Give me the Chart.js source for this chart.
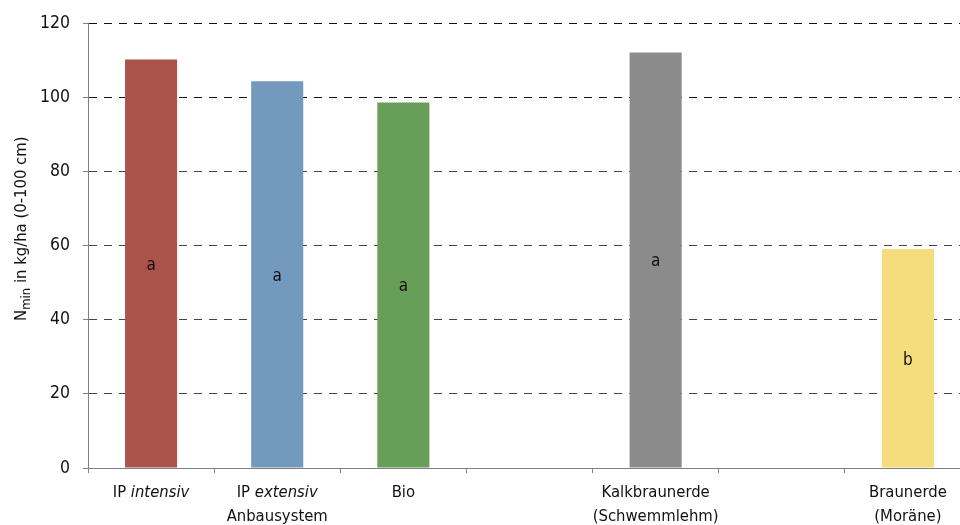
<!DOCTYPE html>
<html>
<head>
<meta charset="utf-8">
<script src="https://cdn.jsdelivr.net/npm/chart.js@4/dist/chart.umd.min.js"></script>
<style>
  html, body { margin: 0; padding: 0; background: #fff; overflow: hidden; }
  #wrap { width: 960px; height: 525px; overflow: hidden; }
  canvas { display: block; }
</style>
</head>
<body>
<div id="wrap"><canvas id="c" width="975" height="525"></canvas></div>
<script>
// Categories (empty strings are spacer slots between the groups)
const categories = ['IP intensiv', 'IP extensiv', 'Bio', '', 'Kalkbraunerde\n(Schwemmlehm)', '', 'Braunerde\n(Moräne)'];
const italicWords = ['intensiv', 'extensiv'];
// Group caption below the three cropping systems
const groupLabel = 'Anbausystem';
const groupRange = [0, 2];
// Nmin (kg/ha, 0-100 cm)
const nminValues = [110.3, 104.4, 98.7, null, 112.2, null, 59.1];
// Significance letters
const letters = ['a', 'a', 'a', '', 'a', '', 'b'];
const barColors = ['#aa534b', '#7399be', '#679e58', '#ffffff', '#8b8b8b', '#ffffff', '#f5dc7c'];
const yTicks = [0, 20, 40, 60, 80, 100, 120];

const FONT = '"DejaVu Sans Condensed", "DejaVu Sans", sans-serif';
const TEXT = '#111111';

const letterPlugin = {
  id: 'letters',
  afterDatasetsDraw(chart) {
    const ctx = chart.ctx;
    const meta = chart.getDatasetMeta(0);
    ctx.save();
    ctx.font = '17px ' + FONT;
    ctx.fillStyle = TEXT;
    ctx.textAlign = 'center';
    ctx.textBaseline = 'middle';
    meta.data.forEach((el, i) => {
      if (!letters[i] || nminValues[i] == null) return;
      ctx.fillText(letters[i], el.x, (el.y + el.base) / 2 + 2);
    });
    ctx.restore();
  }
};

function drawMixed(ctx, text, cx, y, size) {
  const words = text.split(' ');
  const parts = words.map((w, k) => ({
    t: (k < words.length - 1) ? w + ' ' : w,
    it: italicWords.includes(w)
  }));
  let total = 0;
  parts.forEach(p => {
    ctx.font = (p.it ? 'italic ' : '') + size + 'px ' + FONT;
    p.w = ctx.measureText(p.t).width;
    total += p.w;
  });
  let x = cx - total / 2;
  ctx.textAlign = 'left';
  parts.forEach(p => {
    ctx.font = (p.it ? 'italic ' : '') + size + 'px ' + FONT;
    ctx.fillText(p.t, x, y);
    x += p.w;
  });
}

const axisTextPlugin = {
  id: 'axisText',
  afterDraw(chart) {
    const ctx = chart.ctx;
    const xs = chart.scales.x;
    const area = chart.chartArea;
    ctx.save();
    ctx.fillStyle = TEXT;
    ctx.textBaseline = 'middle';
    const line1 = area.bottom + 25, line2 = area.bottom + 49;
    categories.forEach((c, i) => {
      if (!c) return;
      const cx = xs.getPixelForValue(i);
      c.split('\n').forEach((ln, k) => drawMixed(ctx, ln, cx, k === 0 ? line1 : line2, 16.5));
    });
    const gx = (xs.getPixelForValue(groupRange[0]) + xs.getPixelForValue(groupRange[1])) / 2;
    drawMixed(ctx, groupLabel, gx, line2, 16.5);

    // y axis title with subscript
    ctx.translate(22, (area.top + area.bottom) / 2 - 17);
    ctx.rotate(-Math.PI / 2);
    const segs = [
      { t: 'N', size: 16.5, dy: 0 },
      { t: 'min', size: 13, dy: 5 },
      { t: ' in kg/ha (0-100 cm)', size: 16.5, dy: 0 }
    ];
    let total = 0;
    segs.forEach(s => { ctx.font = s.size + 'px ' + FONT; s.w = ctx.measureText(s.t).width; total += s.w; });
    let x = -total / 2;
    ctx.textAlign = 'left';
    ctx.textBaseline = 'middle';
    segs.forEach(s => { ctx.font = s.size + 'px ' + FONT; ctx.fillText(s.t, x, s.dy); x += s.w; });
    ctx.restore();
  }
};

new Chart(document.getElementById('c'), {
  type: 'bar',
  data: {
    labels: categories,
    datasets: [{
      data: nminValues,
      backgroundColor: barColors,
      borderWidth: 0,
      inflateAmount: 0,
      categoryPercentage: 1,
      barPercentage: 0.4127
    }]
  },
  options: {
    responsive: false,
    devicePixelRatio: 1,
    animation: false,
    events: [],
    layout: { padding: { top: 23, right: 4, bottom: 0, left: 0 } },
    plugins: { legend: { display: false }, tooltip: { enabled: false } },
    scales: {
      x: {
        afterFit(s) { s.height = 57; },
        grid: {
          display: true,
          offset: true,
          drawOnChartArea: false,
          drawTicks: true,
          tickLength: 5,
          tickColor: '#7f7f7f',
          tickBorderDash: []
        },
        border: { display: true, color: '#7f7f7f', width: 1 },
        ticks: { display: false }
      },
      y: {
        min: 0,
        max: 120,
        afterFit(s) { s.width = 88; },
        afterBuildTicks(s) { s.ticks = yTicks.map(v => ({ value: v })); },
        grid: {
          color: c => (c.tick && c.tick.value === 0) ? 'rgba(0,0,0,0)' : (c.tick && c.tick.value >= 100 ? '#111' : '#444'),
          lineWidth: 1,
          drawTicks: true,
          tickLength: 5,
          tickColor: '#7f7f7f',
          tickBorderDash: []
        },
        border: { display: true, color: '#7f7f7f', width: 1, dash: [8, 7] },
        ticks: {
          padding: 13,
          color: TEXT,
          font: { family: FONT, size: 17.5 }
        }
      }
    }
  },
  plugins: [letterPlugin, axisTextPlugin]
});
</script>
</body>
</html>
